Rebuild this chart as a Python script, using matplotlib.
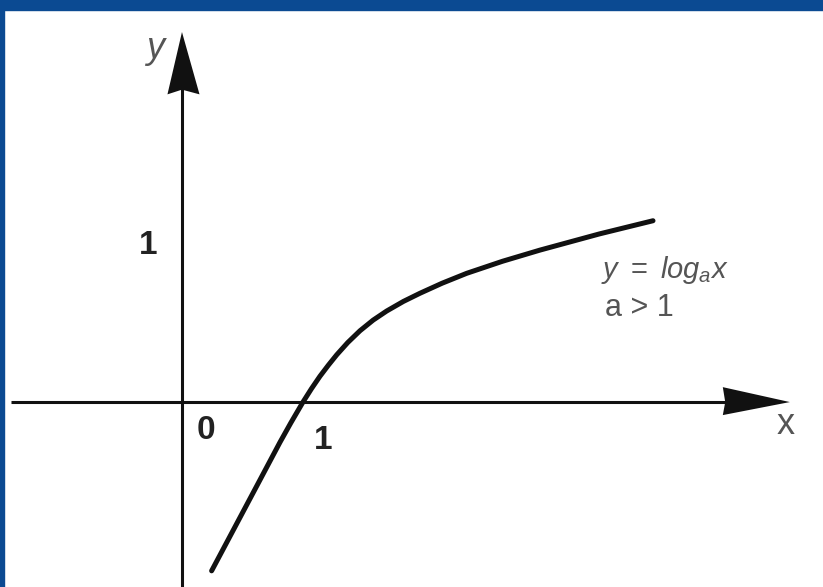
import matplotlib.pyplot as plt
from matplotlib.patches import Polygon, Rectangle

plt.rcParams['font.family'] = ['Liberation Sans', 'DejaVu Sans']
plt.rcParams['mathtext.fontset'] = 'custom'
plt.rcParams['mathtext.rm'] = 'Liberation Sans'
plt.rcParams['mathtext.it'] = 'Liberation Sans:italic'

# points on the curve y = log_a(x), a > 1
curve_x = [0.245, 0.43, 0.617, 0.81, 0.9, 1.0, 1.07, 1.14, 1.21, 1.279,
           1.37, 1.471, 1.58, 1.692, 1.83, 1.967, 2.15, 2.353, 2.65,
           2.959, 3.45, 3.893]
curve_y = [-1.075, -0.807, -0.536, -0.256, -0.132, 0.0, 0.085, 0.164, 0.235,
           0.301, 0.379, 0.454, 0.522, 0.580, 0.641, 0.693, 0.757, 0.82,
           0.897, 0.968, 1.071, 1.155]

x_ticks = [0, 1]
x_tick_labels = ['0', '1']
y_ticks = [1]
y_tick_labels = ['1']

fig = plt.figure(figsize=(8.23, 5.87), dpi=100)
ax = fig.add_axes([0, 0, 1, 1])
ax.set_xlim(-1.504, 5.298)
ax.set_ylim(-1.178, 2.561)
ax.axis('off')

# frame around the slide
fig.patches.append(Rectangle((0, 1 - 10 / 587), 1, 10 / 587, transform=fig.transFigure,
                             color='#0b4a92', zorder=0))
fig.patches.append(Rectangle((0, 0), 4 / 823, 1, transform=fig.transFigure,
                             color='#0b4a92', zorder=0))

ink = '#111111'
# axes lines
ax.plot([-1.41, 4.6], [0, 0], color=ink, lw=2.2, solid_capstyle='butt')
ax.plot([0, 0], [-1.2, 2.1], color=ink, lw=2.2, solid_capstyle='butt')

# arrow heads
ax.add_patch(Polygon([(4.47, 0.095), (5.024, 0.0), (4.47, -0.083), (4.49, 0.0)],
                     closed=True, color=ink, lw=0))
ax.add_patch(Polygon([(-0.12, 1.96), (0.0, 2.357), (0.145, 1.96), (0.0, 1.99)],
                     closed=True, color=ink, lw=0))

# the curve
ax.plot(curve_x, curve_y, color=ink, lw=3.6, solid_capstyle='round',
        solid_joinstyle='round')

# tick labels
ax.text(x_ticks[0] + 0.2, -0.18, x_tick_labels[0], fontsize=24, fontweight='bold',
        color='#222222', ha='center', va='center')
ax.text(x_ticks[1] + 0.165, -0.245, x_tick_labels[1], fontsize=24, fontweight='bold',
        color='#222222', ha='center', va='center')
ax.text(-0.28, y_ticks[0], y_tick_labels[0], fontsize=24, fontweight='bold',
        color='#222222', ha='center', va='center')

# axis names
ax.text(-0.22, 2.25, 'y', fontsize=26, style='italic', color='#555555',
        ha='center', va='center')
ax.text(4.99, -0.14, 'x', fontsize=26, color='#555555', ha='center', va='center')

# function label
ax.text(3.46, 0.84, r'$y\ =\ log_{a}x$', fontsize=21, color='#555555',
        ha='left', va='center')
ax.text(3.5, 0.6, 'a > 1', fontsize=22, color='#555555', ha='left', va='center')

fig.savefig('out.png', dpi=100, facecolor='white')
